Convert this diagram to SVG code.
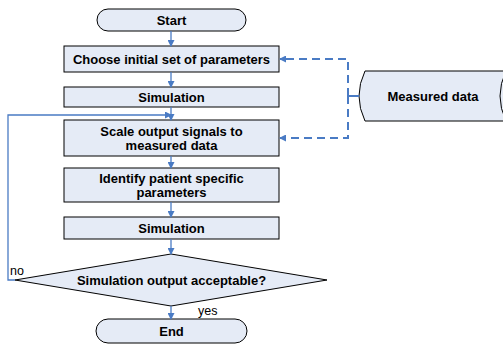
<svg xmlns="http://www.w3.org/2000/svg" width="503" height="345" viewBox="0 0 503 345">
<style>
.n{fill:#E5EBF6;stroke:#000;stroke-width:1}
.t{font-family:"Liberation Sans",Arial,sans-serif;font-size:13px;font-weight:bold;text-anchor:middle;fill:#000}
.l{font-family:"Liberation Sans",Arial,sans-serif;font-size:12.5px;fill:#000}
.c{fill:none;stroke:#4A7BC4;stroke-width:1.3}
.d{fill:none;stroke:#4A7BC4;stroke-width:2;stroke-dasharray:8,5}
</style>
<defs>
<marker id="a" markerWidth="7" markerHeight="7" refX="6" refY="3.5" orient="auto" markerUnits="userSpaceOnUse">
<path d="M0,0 L7,3.5 L0,7 Z" fill="#4A7BC4"/>
</marker>
</defs>
<g id="start"><rect class="n" x="97" y="9" width="149" height="22" rx="11"/><text class="t" x="171.5" y="25">Start</text></g>
<g id="choose"><rect class="n" x="64" y="46" width="215" height="26"/><text class="t" x="171.5" y="64">Choose initial set of parameters</text></g>
<g id="sim1"><rect class="n" x="64" y="87" width="215" height="20"/><text class="t" x="171.5" y="102">Simulation</text></g>
<g id="scale"><rect class="n" x="64" y="120" width="215" height="36"/><text class="t" x="171.5" y="136">Scale output signals to</text><text class="t" x="171.5" y="150">measured data</text></g>
<g id="identify"><rect class="n" x="64" y="168" width="215" height="34"/><text class="t" x="171.5" y="183">Identify patient specific</text><text class="t" x="171.5" y="197">parameters</text></g>
<g id="sim2"><rect class="n" x="64" y="217" width="215" height="22"/><text class="t" x="171.5" y="233">Simulation</text></g>
<g id="decision"><polygon class="n" points="171,254 327,280 171,306 15,280"/><text class="t" x="171.5" y="285">Simulation output acceptable?</text></g>
<g id="end"><rect class="n" x="96" y="319" width="151" height="24" rx="12"/><text class="t" x="171.5" y="336">End</text></g>
<g id="measured"><path class="n" d="M365,71 L520,71 L520,121 L365,121 Q353,96 365,71 Z"/><path fill="none" stroke="#000" stroke-width="1" d="M506,71 Q494,96 506,121"/><text class="t" x="433" y="101">Measured data</text></g>
<g id="connectors">
<line class="c" x1="171" y1="31" x2="171" y2="46" marker-end="url(#a)"/>
<line class="c" x1="171" y1="72" x2="171" y2="87" marker-end="url(#a)"/>
<line class="c" x1="171" y1="107" x2="171" y2="120" marker-end="url(#a)"/>
<line class="c" x1="171" y1="156" x2="171" y2="168" marker-end="url(#a)"/>
<line class="c" x1="171" y1="202" x2="171" y2="217" marker-end="url(#a)"/>
<line class="c" x1="171" y1="239" x2="171" y2="254" marker-end="url(#a)"/>
<line class="c" x1="171" y1="306" x2="171" y2="319" marker-end="url(#a)"/>
<polyline class="c" points="15,280 8,280 8,115 171,115" marker-end="url(#a)"/>
<line stroke="#4A7BC4" stroke-width="2" x1="359" y1="96" x2="348" y2="96"/>
<polyline class="d" points="348,96 348,59 280,59" marker-end="url(#a)"/>
<polyline class="d" points="348,96 348,138 280,138" marker-end="url(#a)"/>
<text class="l" x="10" y="275">no</text>
<text class="l" x="198" y="315">yes</text>
</g>
</svg>
